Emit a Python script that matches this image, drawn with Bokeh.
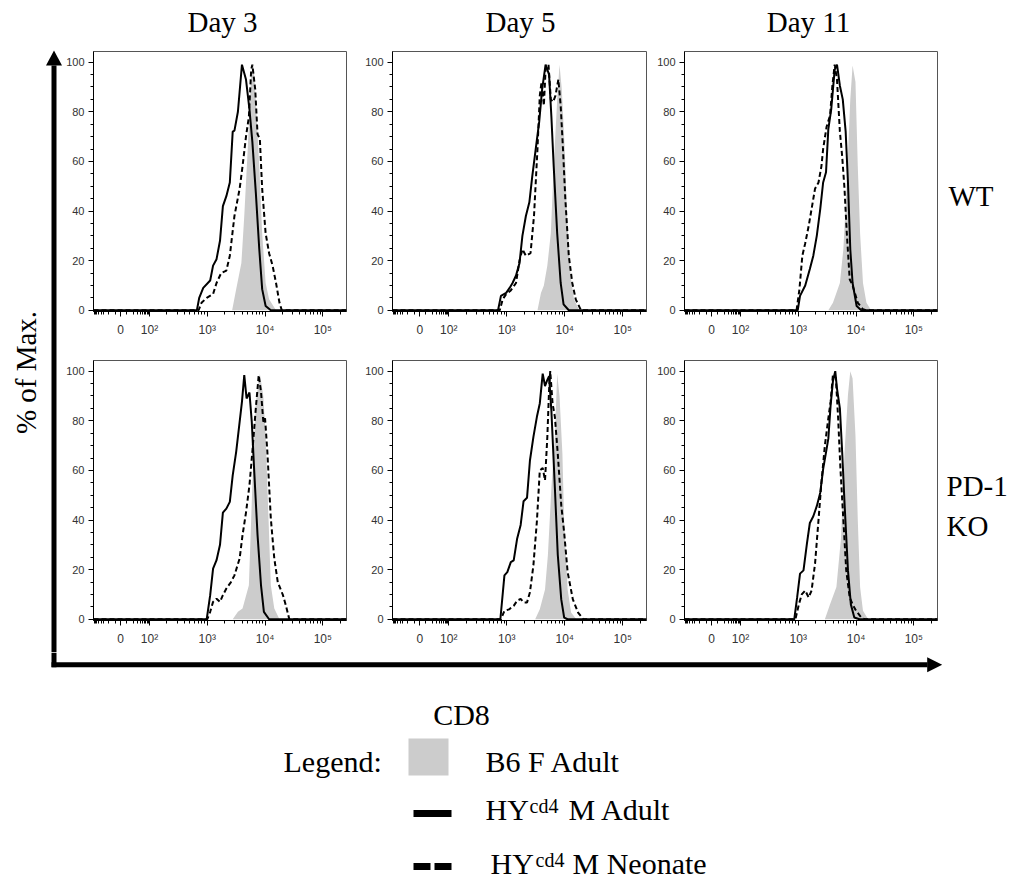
import math
from bokeh.plotting import figure
from bokeh.models import Range1d, FixedTicker
from bokeh.layouts import row, column
from bokeh.core.properties import value
from bokeh.embed import file_html
from bokeh.resources import INLINE

# ---------------- data (x = log10 CD8 on a biexponential display; "0" sits at 1.5) ----
days = ["Day 3", "Day 5", "Day 11"]
genotypes = ["WT", "PD-1\nKO"]
x_tick_pos = [1.5, 2, 3, 4, 5]
x_tick_labels = ["0", "10\u00b2", "10\u00b3", "10\u2074", "10\u2075"]
y_ticks = [0, 20, 40, 60, 80, 100]
legend_labels = ["B6 F Adult", "HY", "cd4", "M Adult", "M Neonate"]

# Day 3, WT
d3_wt_b6_x = [3.43, 3.50, 3.59, 3.64, 3.70, 3.76, 3.80, 3.84, 3.90, 3.95, 4.01, 4.07, 4.19]
d3_wt_b6_y = [0, 8.5, 19, 38, 65, 95, 99, 85, 58, 31, 11, 4.4, 0]
d3_wt_adult_x = [2.82, 2.86, 2.93, 3.05, 3.10, 3.16, 3.22, 3.27, 3.33, 3.39, 3.44, 3.47, 3.53, 3.60, 3.67, 3.73, 3.78, 3.84, 3.90, 3.95, 4.01, 4.10]
d3_wt_adult_y = [0, 5, 9, 12, 18, 20.6, 28, 42, 46, 51.5, 72, 72.4, 80, 99, 93, 81, 68, 47.5, 24.6, 8.5, 1.7, 0]
d3_wt_neo_x = [2.85, 2.90, 2.99, 3.10, 3.16, 3.24, 3.33, 3.39, 3.47, 3.56, 3.61, 3.67, 3.72, 3.76, 3.78, 3.83, 3.87, 3.91, 3.95, 4.01, 4.07, 4.13, 4.19, 4.25, 4.29]
d3_wt_neo_y = [0, 3, 5, 6.5, 11, 15, 16, 22, 38, 49, 58, 70, 78, 97, 99, 89, 71, 69, 49, 31, 23, 18, 11, 3, 0]

# Day 5, WT
d5_wt_b6_x = [3.53, 3.59, 3.64, 3.70, 3.76, 3.81, 3.87, 3.91, 3.95, 4.00, 4.04, 4.10, 4.16, 4.25]
d5_wt_b6_y = [0, 7, 10, 18, 31, 58, 85, 99, 89, 65, 38, 14, 4.4, 0]
d5_wt_adult_x = [2.85, 2.90, 2.99, 3.05, 3.10, 3.16, 3.22, 3.27, 3.33, 3.39, 3.44, 3.50, 3.56, 3.61, 3.67, 3.73, 3.77, 3.81, 3.87, 3.93, 3.98, 4.07]
d5_wt_adult_y = [0, 5.8, 7, 9, 11, 14, 19, 30, 38, 43.5, 54, 65, 76, 89, 99, 95, 78, 58, 31, 11, 2.4, 0]
d5_wt_neo_x = [2.88, 2.93, 2.99, 3.07, 3.16, 3.22, 3.27, 3.33, 3.41, 3.47, 3.53, 3.57, 3.60, 3.64, 3.67, 3.72, 3.76, 3.80, 3.84, 3.89, 3.93, 3.97, 4.01, 4.07, 4.13, 4.19, 4.28]
d5_wt_neo_y = [0, 4.4, 6.5, 8, 11, 20, 24.6, 22, 23, 38, 65, 86.5, 92, 82.5, 97, 99, 85, 84, 86.5, 93, 82.5, 65, 45, 22, 11, 4.4, 0]

# Day 11, WT
d11_wt_b6_x = [3.52, 3.60, 3.72, 3.78, 3.84, 3.90, 3.94, 3.99, 4.03, 4.07, 4.12, 4.18, 4.26]
d11_wt_b6_y = [0, 3, 11, 24.6, 51.5, 85, 98.7, 92, 58, 31, 11, 3, 0]
d11_wt_adult_x = [2.99, 3.03, 3.12, 3.20, 3.26, 3.32, 3.38, 3.43, 3.48, 3.52, 3.57, 3.63, 3.67, 3.72, 3.77, 3.82, 3.86, 3.90, 3.94, 4.01, 4.09]
d11_wt_adult_y = [0, 5.8, 10, 16.6, 22, 30, 40.8, 51.5, 55.6, 73, 81, 97, 99, 90.5, 85, 72, 51.5, 24.6, 11, 1.7, 0]
d11_wt_neo_x = [2.97, 3.02, 3.07, 3.12, 3.18, 3.23, 3.29, 3.35, 3.40, 3.43, 3.49, 3.55, 3.59, 3.63, 3.67, 3.72, 3.76, 3.80, 3.84, 3.89, 3.94, 4.03, 4.12, 4.18]
d11_wt_neo_y = [0, 8.5, 22, 27, 34, 40.8, 49, 51.5, 58, 65, 74, 78.5, 90.5, 99, 93, 72, 62, 49, 31, 12.5, 10, 3, 0.4, 0]

# Day 3, PD-1 KO
d3_ko_b6_x = [3.44, 3.53, 3.61, 3.72, 3.78, 3.84, 3.91, 3.97, 4.01, 4.06, 4.10, 4.16, 4.25]
d3_ko_b6_y = [0, 3, 4.3, 13.7, 54, 87.6, 99, 90, 74, 40.6, 13.7, 4.3, 0]
d3_ko_adult_x = [2.99, 3.05, 3.10, 3.16, 3.22, 3.27, 3.33, 3.39, 3.44, 3.50, 3.56, 3.60, 3.64, 3.68, 3.73, 3.77, 3.81, 3.87, 3.93, 3.98, 4.07]
d3_ko_adult_y = [0, 9.7, 20.4, 23.8, 30, 43, 44.6, 47.3, 58, 67.5, 79.6, 87.6, 98.4, 89, 91.4, 79.6, 60.8, 33.9, 13.7, 3, 0]
d3_ko_neo_x = [3.00, 3.05, 3.10, 3.16, 3.22, 3.27, 3.33, 3.41, 3.47, 3.56, 3.61, 3.67, 3.73, 3.78, 3.84, 3.89, 3.93, 3.97, 4.00, 4.04, 4.10, 4.16, 4.22, 4.31, 4.36, 4.42]
d3_ko_neo_y = [0, 3, 7, 8.3, 7, 9.7, 12.4, 15, 17.7, 24.5, 33.9, 43, 54, 67.5, 85, 98.4, 91.7, 79.6, 81, 67.5, 40.6, 24.5, 15, 9.7, 5.6, 0]

# Day 5, PD-1 KO
d5_ko_b6_x = [3.49, 3.57, 3.66, 3.71, 3.77, 3.83, 3.87, 3.91, 3.96, 3.99, 4.05, 4.11, 4.20]
d5_ko_b6_y = [0, 4, 12, 26, 53, 73.5, 99, 90, 66.7, 39.5, 12, 2.7, 0]
d5_ko_adult_x = [2.89, 2.96, 3.01, 3.07, 3.12, 3.18, 3.24, 3.29, 3.35, 3.40, 3.46, 3.52, 3.57, 3.62, 3.66, 3.70, 3.73, 3.77, 3.83, 3.88, 3.94, 3.99, 4.05]
d5_ko_adult_y = [0, 17.7, 19, 23, 23.7, 32.6, 38, 47.6, 49, 64, 73.5, 81.6, 87, 99, 94, 96.5, 98, 84, 53, 26, 8, 0.7, 0]
d5_ko_neo_x = [2.90, 2.96, 3.04, 3.12, 3.18, 3.24, 3.29, 3.35, 3.40, 3.46, 3.52, 3.57, 3.62, 3.66, 3.70, 3.73, 3.75, 3.79, 3.83, 3.88, 3.94, 3.99, 4.05, 4.14, 4.23, 4.32]
d5_ko_neo_y = [0, 3.4, 4, 5.4, 7.5, 8.2, 6.8, 6.8, 10.9, 21.8, 39.5, 60, 61, 56, 73.5, 92.5, 100, 87, 81.6, 66.7, 46, 35, 19, 8, 2.7, 0]

# Day 11, PD-1 KO
d11_ko_b6_x = [3.46, 3.55, 3.66, 3.74, 3.80, 3.86, 3.90, 3.94, 3.99, 4.03, 4.07, 4.12, 4.21]
d11_ko_b6_y = [0, 6, 13, 33, 67, 90.5, 100, 97, 74, 40, 13, 3.4, 0]
d11_ko_adult_x = [2.93, 2.98, 3.03, 3.09, 3.15, 3.20, 3.26, 3.32, 3.38, 3.43, 3.48, 3.52, 3.56, 3.60, 3.64, 3.67, 3.72, 3.76, 3.80, 3.86, 3.91, 3.97, 4.06]
d11_ko_adult_y = [0, 8.8, 18.4, 19.7, 30.6, 38.8, 41.5, 45.6, 51, 60.5, 67.3, 72.8, 86.4, 96, 100, 93, 85, 67.3, 47, 19.7, 6, 0.7, 0]
d11_ko_neo_x = [2.95, 3.01, 3.06, 3.12, 3.18, 3.23, 3.29, 3.35, 3.40, 3.46, 3.52, 3.56, 3.60, 3.65, 3.69, 3.73, 3.78, 3.83, 3.89, 3.94, 4.00, 4.09, 4.15]
d11_ko_neo_y = [0, 6, 10, 11.6, 8.8, 11.6, 22.4, 40, 55, 70, 81, 87.8, 98.6, 97.3, 81, 60.5, 40, 19.7, 8.8, 6, 3.4, 0.7, 0]

# ---------------- styling / geometry ----------------
X_LO, X_HI = 1.03, 5.41
Y_LO, Y_HI = -0.5, 104.3
FW, FH = 254, 260
GRAY = "#cccccc"
SERIF = "Liberation Serif"
SANS = "Liberation Sans"

# minor ticks of the biexponential axis
x_minor = []
for d in (2, 3, 4):
    x_minor += [d + math.log10(k) for k in range(2, 10)]
x_minor += [5 + math.log10(k) for k in range(2, 3)]
x_minor += [1.597 + 0.403 * math.log10(k) for k in range(1, 10)]
x_minor += [1.5 - (0.097 + 0.403 * math.log10(k)) for k in range(1, 10)]
y_minor = list(range(0, 105, 5))


def ext(xs, ys):
    return [X_LO] + xs + [X_HI], [0] + ys + [0]


def panel(b6x, b6y, ax, ay, nx, ny, left, right, top, bottom):
    p = figure(width=left + FW + right, height=top + FH + bottom,
               x_range=Range1d(X_LO, X_HI), y_range=Range1d(Y_LO, Y_HI),
               output_backend="svg", toolbar_location=None,
               min_border_left=left, min_border_right=right,
               min_border_top=top, min_border_bottom=bottom)
    p.grid.visible = False
    p.outline_line_color = "#555555"
    p.outline_line_width = 1
    p.xaxis.ticker = FixedTicker(ticks=x_tick_pos, minor_ticks=x_minor)
    p.xaxis.major_label_overrides = dict(zip(x_tick_pos, x_tick_labels))
    p.yaxis.ticker = FixedTicker(ticks=y_ticks, minor_ticks=y_minor)
    for a in (p.xaxis[0], p.yaxis[0]):
        a.major_label_text_font = SANS
        a.major_label_text_color = "#333333"
        a.axis_line_color = "black"
        a.axis_line_width = 1
        a.major_tick_line_color = "black"
        a.minor_tick_line_color = "black"
        a.major_tick_in = 0
        a.major_tick_out = 5
        a.minor_tick_in = 0
        a.minor_tick_out = 3
    p.xaxis.major_label_text_font_size = "12px"
    p.yaxis.major_label_text_font_size = "11px"
    p.xaxis.major_label_standoff = 6
    p.yaxis.major_label_standoff = 4
    gx, gy = ext(b6x, b6y)
    p.varea(x=gx, y1=[0] * len(gx), y2=gy, fill_color=GRAY)
    sx, sy = ext(ax, ay)
    p.line(sx, sy, line_color="black", line_width=2)
    dx, dy = ext(nx, ny)
    p.line(dx, dy, line_color="black", line_width=2, line_dash="5 3")
    return p


def canvas(w, h):
    f = figure(width=w, height=h, x_range=Range1d(0, w), y_range=Range1d(h, 0),
               x_axis_type=None, y_axis_type=None, output_backend="svg",
               toolbar_location=None, min_border=0)
    f.grid.visible = False
    f.outline_line_color = None
    return f


def txt(f, x, y, s, size="29px", align="left", angle=0.0, font=SERIF):
    f.text(x=[x], y=[y], text=[s], text_font=value(font), text_font_size=size,
           text_align=align, text_baseline="middle", angle=angle, text_color="black")


# column borders: (left, right)
cols = [(29, 8), (38, 8), (29, 4)]
rows_b = [(4, 45), (4, 32)]

data = [
    [(d3_wt_b6_x, d3_wt_b6_y, d3_wt_adult_x, d3_wt_adult_y, d3_wt_neo_x, d3_wt_neo_y),
     (d5_wt_b6_x, d5_wt_b6_y, d5_wt_adult_x, d5_wt_adult_y, d5_wt_neo_x, d5_wt_neo_y),
     (d11_wt_b6_x, d11_wt_b6_y, d11_wt_adult_x, d11_wt_adult_y, d11_wt_neo_x, d11_wt_neo_y)],
    [(d3_ko_b6_x, d3_ko_b6_y, d3_ko_adult_x, d3_ko_adult_y, d3_ko_neo_x, d3_ko_neo_y),
     (d5_ko_b6_x, d5_ko_b6_y, d5_ko_adult_x, d5_ko_adult_y, d5_ko_neo_x, d5_ko_neo_y),
     (d11_ko_b6_x, d11_ko_b6_y, d11_ko_adult_x, d11_ko_adult_y, d11_ko_neo_x, d11_ko_neo_y)],
]

grid_rows = []
for r in range(2):
    t, b = rows_b[r]
    figs = []
    for c in range(3):
        l, rr = cols[c]
        figs.append(panel(*data[r][c], left=l, right=rr, top=t, bottom=b))
    grid_rows.append(row(*figs))
grid = column(*grid_rows)

TOTAL_W, TOTAL_H = 1009, 882
LEFT_W = 63
GRID_W = sum(l + FW + r for l, r in cols)
RIGHT_W = TOTAL_W - LEFT_W - GRID_W
MID_H = sum(t + FH + b for t, b in rows_b)
TOP_H = 47
BOT_H = TOTAL_H - TOP_H - MID_H

# top strip: day titles
top = canvas(TOTAL_W, TOP_H)
title_x = [222, 520, 808]
for x, s in zip(title_x, days):
    txt(top, x, 21, s, align="center")

# left strip: y arrow + label
left = canvas(LEFT_W, MID_H)
left.quad(left=[51], right=[56], top=[18], bottom=[MID_H], fill_color="black", line_color=None)
left.patch([45.5, 53.5, 61.5], [18, 3, 18], fill_color="black", line_color=None)
txt(left, 25, 325, "% of Max.", size="29px", align="center", angle=math.pi / 2)

# right strip: genotype labels
right = canvas(RIGHT_W, MID_H)
txt(right, 7, 148, genotypes[0])
ko_lines = genotypes[1].split("\n")
txt(right, 5, 438, ko_lines[0])
txt(right, 5, 478, ko_lines[1])

# bottom strip: x arrow, axis name and legend
bot = canvas(TOTAL_W, BOT_H)
bot.quad(left=[51], right=[56], top=[0], bottom=[14.8], fill_color="black", line_color=None)
bot.quad(left=[51], right=[927], top=[9.8], bottom=[14.8], fill_color="black", line_color=None)
bot.patch([926.7, 941.7, 926.7], [4.8, 12.3, 19.8], fill_color="black", line_color=None)
txt(bot, 461, 62, "CD8", size="30px", align="center")
txt(bot, 283, 109, "Legend:", size="30px")
bot.quad(left=[408], right=[448], top=[86], bottom=[123], fill_color=GRAY, line_color=None)
txt(bot, 485, 109, legend_labels[0], size="30px")
bot.line([413, 451], [161, 161], line_color="black", line_width=7)
txt(bot, 485, 157, legend_labels[1], size="30px")
txt(bot, 529, 153, legend_labels[2], size="20px")
txt(bot, 568, 157, legend_labels[3], size="30px")
bot.line([413, 451], [214, 214], line_color="black", line_width=7, line_dash="17 4")
txt(bot, 490, 211, legend_labels[1], size="30px")
txt(bot, 535, 207, legend_labels[2], size="20px")
txt(bot, 572, 211, legend_labels[4], size="30px")

layout = column(top, row(left, grid, right), bot)

open("out.html", "w").write(file_html(layout, INLINE))
